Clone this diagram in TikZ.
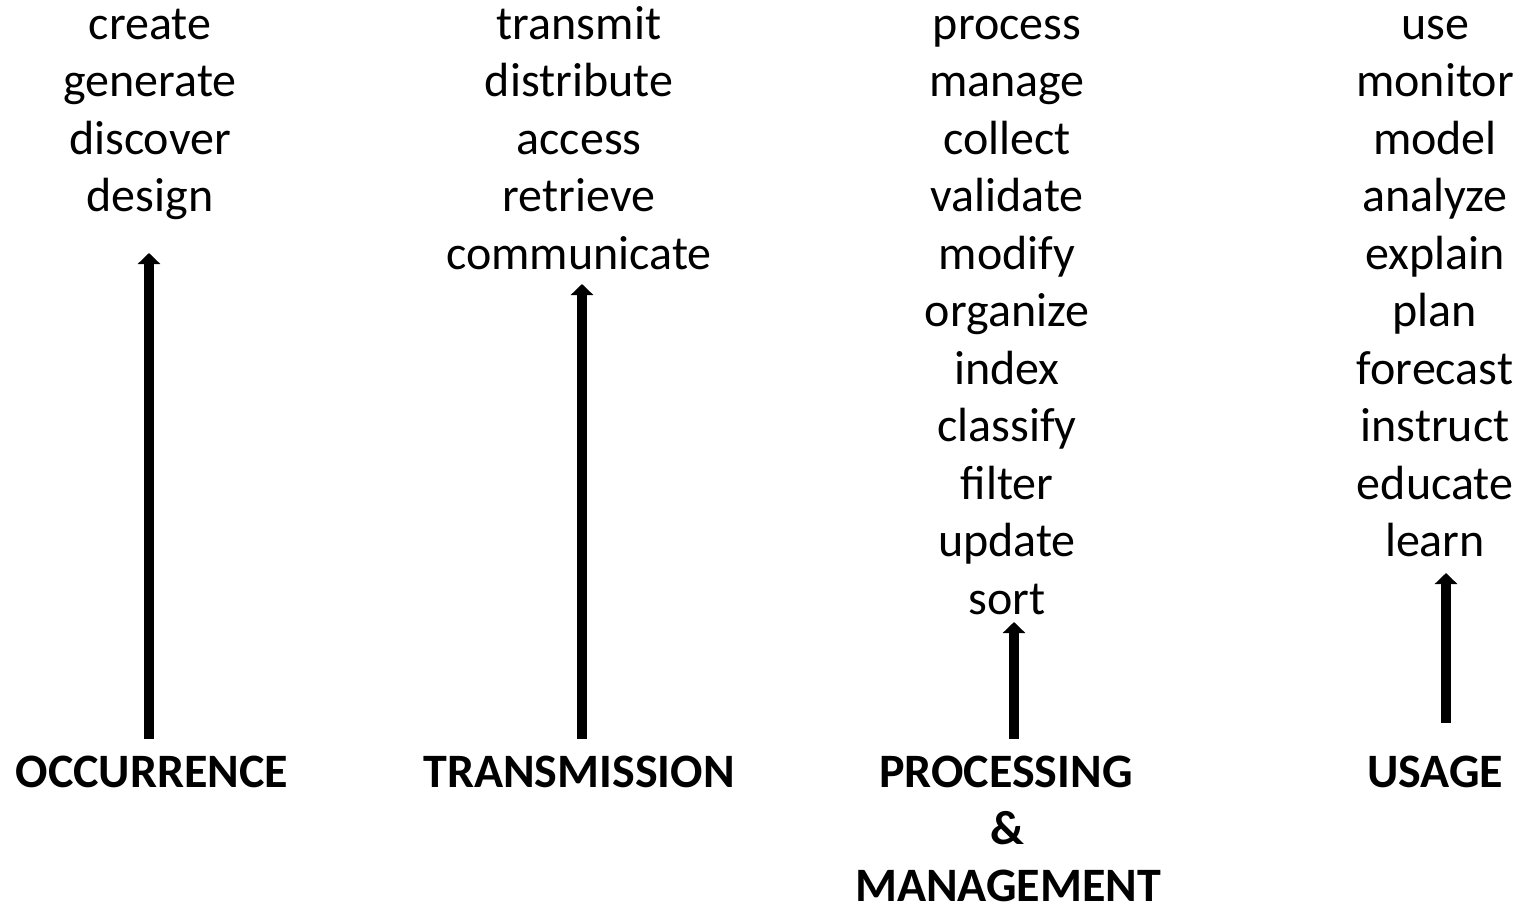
\documentclass[tikz,border=0pt]{standalone}
\usepackage{fontspec}
\setmainfont{Carlito}
\usetikzlibrary{arrows.meta}
\begin{document}
\begin{tikzpicture}[x=1pt,y=-1pt,
  word/.style={anchor=base, inner sep=0pt, font=\fontsize{48}{57.5}\selectfont},
  lbl/.style={anchor=base, inner sep=0pt, font=\fontsize{48}{57.5}\selectfont\bfseries},
  arr/.style={line width=9.5pt, -{Triangle[width=22pt,length=11pt]}}]
\useasboundingbox (0,0) rectangle (1522,908);
% columns of verbs
\foreach \w [count=\i] in {create,generate,discover,design}
  \node[word] (a\i) at (150,{39+57.5*(\i-1)}) {\w};
\foreach \w [count=\i] in {transmit,distribute,access,retrieve,communicate}
  \node[word] (b\i) at (579,{39+57.5*(\i-1)}) {\w};
\foreach \w [count=\i] in {process,manage,collect,validate,modify,organize,index,classify,filter,update,sort}
  \node[word] (c\i) at (1007,{39+57.5*(\i-1)}) {\w};
\foreach \w [count=\i] in {use,monitor,model,analyze,explain,plan,forecast,instruct,educate,learn}
  \node[word] (d\i) at (1435,{39+57.5*(\i-1)}) {\w};
% labels
\node[lbl] (la) at (152,787) {OCCURRENCE};
\node[lbl] (lb) at (579,787) {TRANSMISSION};
\node[lbl] (lc) at (1006,787) {PROCESSING};
\node[lbl] (lc2) at (1007,844.5) {\&};
\node[lbl] (lc3) at (1008,901) {MANAGEMENT};
\node[lbl] (ld) at (1435,787) {USAGE};
% arrow end points
\coordinate (a0) at (149,739);
\coordinate (aT) at (149,253);
\coordinate (b0) at (582,739);
\coordinate (bT) at (582,284);
\coordinate (c0) at (1014,739);
\coordinate (cT) at (1014,622);
\coordinate (d0) at (1446,723);
\coordinate (dT) at (1446,573);
\draw[arr] (a0) -- (aT);
\draw[arr] (b0) -- (bT);
\draw[arr] (c0) -- (cT);
\draw[arr] (d0) -- (dT);
\end{tikzpicture}
\end{document}
